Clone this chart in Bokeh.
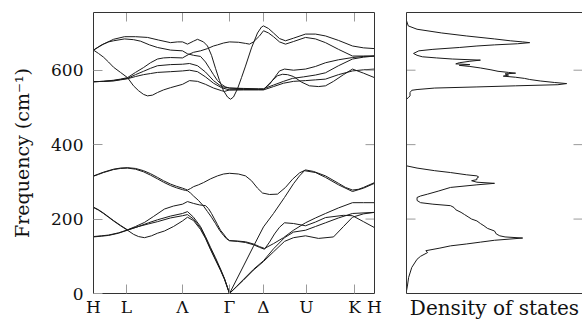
import math
from bokeh.plotting import figure
from bokeh.models import Range1d, LinearAxis, FixedTicker
from bokeh.layouts import row
from bokeh.embed import file_html
from bokeh.resources import INLINE

FONT = "DejaVu Serif"

# k-path positions of high-symmetry points (path distance, arbitrary units)
kpos = [0, 33, 89, 136, 170, 213, 261, 281]
klabels = ["H", "L", "Λ", "Γ", "Δ", "U", "K", "H"]
freq_ticks = [0, 200, 400, 600]
freq_max = 755

# phonon branches: (path distance, frequency cm^-1)
band_L1 = [(0,316),(5,321),(10,326),(20,334),(27,337),(34,338),(42,336),(50,330),(57,322),(64,312),(70,303),(77,294),(83,288),(89,283),(92,280),(94,278),(97,282),(100,287),(105,292),(110,298),(117,308),(124,316),(130,321),(136,323),(145,321),(152,316),(158,303),(164,283),(169,270),(176,266),(184,267),(192,285),(199,307),(206,324),(212,332),(220,328),(232,316),(245,296),(252,285),(259,278),(265,280),(270,285),(281,298)]
band_L2 = [(0,315),(5,320),(10,325),(20,333),(27,336),(34,337),(42,334),(50,327),(57,318),(64,308),(70,299),(77,290),(83,284),(89,279),(92,277),(94,276),(97,270),(100,262),(105,250),(110,235),(114,220),(118,205),(122,188),(126,170),(130,156),(133,147),(136,142),(144,140),(152,137),(160,131),(166,124),(171,119),(176,138),(181,160),(186,178),(191,190),(200,188),(212,182),(222,192),(232,204),(250,210),(259,209),(270,193),(281,177)]
band_B1 = [(0,231),(5,224),(10,215),(15,205),(20,195),(27,182),(34,170),(40,159),(45,153),(51,150),(58,155),(64,162),(71,168),(80,180),(89,195),(94,205),(100,196),(107,172),(112,148),(117,118),(122,90),(127,62),(131,38),(136,0),(150,74),(160,127),(170,179),(180,215),(191,258),(200,295),(206,316),(211,330),(222,325),(232,312),(245,292),(259,274),(270,283),(281,296)]
band_B2 = [(0,232),(5,225),(10,216),(20,196),(27,183),(34,171),(40,176),(45,180),(55,190),(64,198),(77,208),(89,215),(94,220),(100,205),(107,180),(112,153),(117,124),(122,96),(127,66),(131,40),(136,0),(143,19),(150,38),(160,65),(170,88),(180,120),(191,150),(200,165),(212,170),(222,180),(232,190),(245,203),(259,215),(281,218)]
band_B3 = [(0,152),(8,154),(15,156),(25,162),(34,170),(45,180),(55,187),(64,193),(77,203),(89,209),(94,212),(100,200),(107,176),(112,150),(117,120),(122,92),(127,64),(131,39),(136,0),(143,18),(150,36),(160,63),(170,86),(180,112),(191,140),(200,150),(212,155),(225,148),(240,152),(250,180),(259,205),(270,214),(281,218)]
band_B4 = [(0,153),(8,155),(15,157),(25,163),(34,171),(42,180),(51,191),(60,207),(71,227),(80,235),(89,240),(94,247),(100,242),(106,238),(112,236),(115,228),(118,215),(121,200),(124,185),(127,170),(130,160),(133,149),(136,142),(144,141),(152,139),(160,133),(166,126),(171,121),(180,134),(190,150),(200,170),(212,190),(222,203),(232,215),(245,230),(259,244),(270,244),(281,244)]

band_U1 = [(0,654),(5,662),(10,670),(20,683),(31,690),(42,690),(54,688),(65,681),(77,674),(84,676),(89,676),(94,670),(100,678),(104,683),(110,676),(114,665),(118,640),(122,605),(126,572),(130,545),(134,528),(137,522),(140,528),(144,550),(148,580),(152,611),(158,660),(164,700),(168,716),(170,719),(175,712),(180,700),(186,685),(192,679),(200,686),(212,697),(222,697),(232,692),(245,680),(259,665),(270,660),(281,658)]
band_U2 = [(0,654),(8,668),(15,676),(20,679),(31,684),(40,682),(47,678),(56,668),(64,661),(77,654),(89,652),(94,644),(100,640),(107,637),(112,622),(116,605),(120,588),(124,572),(128,562),(132,555),(136,552),(150,550),(165,549),(170,549),(176,562),(181,580),(186,598),(191,603),(200,600),(212,603),(222,610),(232,620),(245,628),(259,634),(270,637),(281,638)]
band_U3 = [(0,654),(5,645),(10,635),(15,622),(20,608),(27,594),(34,580),(40,558),(45,545),(50,535),(54,531),(59,533),(64,540),(70,547),(77,553),(89,562),(96,572),(104,570),(112,562),(120,552),(128,545),(131,543),(136,547),(150,548),(165,548),(170,548),(178,570),(184,585),(189,589),(194,588),(200,583),(208,568),(216,558),(225,556),(232,558),(240,570),(250,588),(259,603),(270,592),(281,580)]
band_U4 = [(0,569),(10,570),(20,573),(27,576),(34,580),(42,594),(50,607),(57,620),(64,630),(70,633),(77,634),(89,633),(95,642),(100,648),(107,652),(114,658),(120,665),(124,668),(130,673),(136,676),(145,675),(152,672),(156,670),(160,676),(166,692),(170,706),(175,700),(180,690),(186,676),(192,670),(200,677),(212,688),(222,684),(232,674),(245,656),(259,638),(270,638),(281,638)]
band_U5 = [(0,569),(10,570),(20,572),(27,575),(34,578),(42,588),(50,597),(57,605),(64,612),(77,615),(89,616),(96,618),(104,612),(112,595),(120,572),(128,556),(136,552),(150,551),(165,550),(170,550),(180,560),(190,570),(199,578),(210,582),(222,587),(232,593),(245,612),(259,630),(270,635),(281,638)]
band_U6 = [(0,569),(10,570),(20,571),(27,574),(34,577),(42,583),(50,588),(57,591),(64,594),(77,596),(89,598),(96,600),(104,596),(112,582),(120,565),(128,553),(136,547),(150,547),(165,547),(170,547),(180,556),(190,565),(200,570),(212,572),(222,574),(232,576),(245,588),(259,598),(270,601),(281,603)]

bands = [band_L1, band_L2, band_B1, band_B2, band_B3, band_B4,
         band_U1, band_U2, band_U3, band_U4, band_U5, band_U6]

# density of states (frequency cm^-1, relative DOS)
dos_freq = [0,7,20,43,70,92,100,110,115,122,128,133,138,143,149,152,155,160,168,175,182,188,195,200,206,212,218,225,231,236,240,244,250,258,262,267,275,285,292,296,299,303,306,310,313,316,319,325,330,337,343,520,522,526,531,540,546,548,552,555,558,561,564,567,571,575,578,581,584,587,590,592,594,597,601,606,610,613,615,617,620,624,627,630,633,636,640,645,652,656,661,665,668,671,674,676,679,684,692,700,710,719,733,755]
dos_val = [0,0,0.005,0.012,0.03,0.06,0.08,0.12,0.11,0.19,0.25,0.34,0.42,0.50,0.66,0.56,0.53,0.51,0.50,0.46,0.44,0.42,0.40,0.37,0.35,0.33,0.31,0.28,0.27,0.25,0.15,0.08,0.06,0.06,0.08,0.12,0.18,0.25,0.40,0.50,0.40,0.37,0.40,0.40,0.41,0.40,0.34,0.25,0.16,0.06,0,0,0,0.01,0.02,0.02,0.03,0.06,0.16,0.40,0.62,0.86,0.91,0.84,0.76,0.70,0.67,0.62,0.55,0.58,0.56,0.62,0.58,0.52,0.48,0.42,0.36,0.30,0.36,0.28,0.30,0.36,0.42,0.26,0.17,0.09,0.06,0.04,0.07,0.15,0.30,0.40,0.50,0.63,0.70,0.66,0.59,0.50,0.34,0.20,0.06,0.01,0,0]

FRAME = "#333333"
TICK = "#9a9a9a"
LINE = "#1a1a1a"
TXT = "#111111"
TICK_LEN = 9


def styled_axis(ticks, labels=None, label=None, label_size="20px"):
    ax = LinearAxis(ticker=FixedTicker(ticks=ticks, minor_ticks=[]))
    ax.major_tick_in = TICK_LEN
    ax.major_tick_out = 0
    ax.minor_tick_in = 0
    ax.minor_tick_out = 0
    ax.major_tick_line_color = TICK
    ax.axis_line_color = FRAME
    ax.major_label_text_font = FONT
    ax.major_label_text_font_size = "17px"
    ax.major_label_text_color = TXT
    if labels is not None:
        ax.major_label_overrides = labels
    if label:
        ax.axis_label = label
        ax.axis_label_text_font = FONT
        ax.axis_label_text_font_style = "normal"
        ax.axis_label_text_font_size = label_size
        ax.axis_label_text_color = TXT
    return ax


def base_fig(fw, left, right, xr):
    p = figure(output_backend="svg", toolbar_location=None,
               frame_width=fw, frame_height=281,
               min_border_left=left, min_border_right=right,
               min_border_top=12, min_border_bottom=4,
               x_range=xr, y_range=Range1d(0, freq_max),
               x_axis_location=None, y_axis_location=None)
    p.outline_line_color = None
    p.xgrid.visible = False
    p.ygrid.visible = False
    p.background_fill_color = "white"
    p.border_fill_color = "white"
    return p


# ---- band structure panel ----
p1 = base_fig(281, 93, 16, Range1d(kpos[0], kpos[-1]))
for b in bands:
    p1.line([pt[0] for pt in b], [pt[1] for pt in b], line_color=LINE, line_width=1)

yl = styled_axis(freq_ticks, label="Frequency (cm⁻¹)", label_size="19px")
yl.major_label_standoff = 10
yl.axis_label_standoff = 15
p1.add_layout(yl, "left")
xb = styled_axis(kpos, labels={k: l for k, l in zip(kpos, klabels)})
xb.major_label_standoff = 3
p1.add_layout(xb, "below")
p1.add_layout(styled_axis([]), "above")
p1.add_layout(styled_axis([]), "right")
# inward tick marks on the top and right frame edges
p1.ray(x=kpos[1:-1], y=[freq_max] * (len(kpos) - 2), length=TICK_LEN, length_units="screen",
       angle=-math.pi / 2, line_color=TICK, line_width=1)
p1.ray(x=[kpos[-1]] * 3, y=freq_ticks[1:], length=TICK_LEN, length_units="screen",
       angle=math.pi, line_color=TICK, line_width=1)

# ---- density of states panel ----
p2 = base_fig(176, 16, 0, Range1d(0, 1))
p2.y_range = p1.y_range
p2.line(dos_val, dos_freq, line_color=LINE, line_width=1)
p2.add_layout(styled_axis([]), "left")
p2.add_layout(styled_axis([]), "above")
xb2 = styled_axis([], label="Density of states")
xb2.axis_label_standoff = 2
p2.add_layout(xb2, "below")
p2.ray(x=[0] * 3, y=freq_ticks[1:], length=TICK_LEN, length_units="screen",
       angle=0, line_color=TICK, line_width=1)
p2.ray(x=[1] * 3, y=freq_ticks[1:], length=TICK_LEN, length_units="screen",
       angle=math.pi, line_color=TICK, line_width=1)

layout = row(p1, p2)
open("out.html", "w").write(file_html(layout, INLINE))
